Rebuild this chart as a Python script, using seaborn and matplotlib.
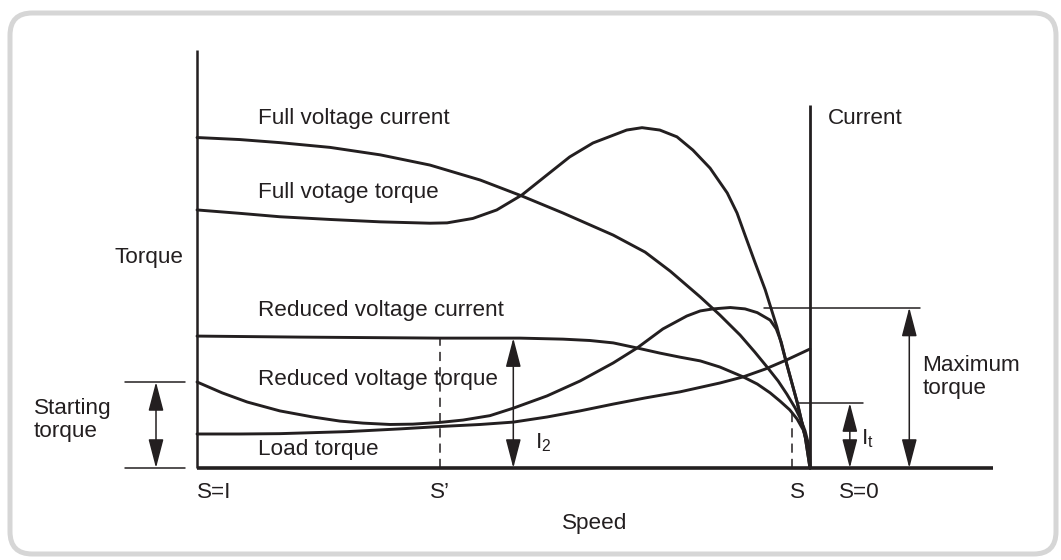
import numpy as np
import pandas as pd
import matplotlib
matplotlib.use("Agg")
import matplotlib.pyplot as plt
from matplotlib.patches import FancyBboxPatch
import seaborn as sns

# Speed axis: 0 = standstill (S=1), 1 = synchronous speed (S=0).
# Vertical axis: torque / current in relative units.
full_current_speed = [0.000, 0.070, 0.135, 0.217, 0.299, 0.380, 0.462, 0.530,
                      0.597, 0.679, 0.731, 0.772, 0.821, 0.853, 0.886, 0.910,
                      0.930, 0.948, 0.962, 0.976, 0.984, 0.992, 0.997, 0.9995,
                      1.000]
full_current_value = [97.2, 96.6, 95.7, 94.3, 92.1, 89.1, 84.7, 80.0,
                      75.0, 68.5, 63.5, 57.9, 50.3, 45.0, 39.1, 34.1,
                      29.7, 25.6, 21.8, 17.6, 14.7, 10.9, 7.4, 3.5,
                      0.0]

full_torque_speed = [0.000, 0.070, 0.135, 0.217, 0.299, 0.380, 0.408, 0.450,
                     0.489, 0.530, 0.571, 0.608, 0.646, 0.701, 0.726, 0.755,
                     0.783, 0.809, 0.837, 0.865, 0.881, 0.894, 0.910, 0.927,
                     0.946, 0.962, 0.979, 0.992, 1.000]
full_torque_value = [75.9, 74.9, 73.9, 73.1, 72.4, 72.0, 72.1, 73.4,
                     75.9, 80.3, 86.2, 91.5, 95.6, 99.4, 100.1, 99.4,
                     97.4, 93.5, 88.2, 80.9, 75.0, 68.5, 60.6, 52.4,
                     41.5, 30.6, 19.4, 9.4, 0.0]

reduced_current_speed = [0.000, 0.168, 0.396, 0.527, 0.597, 0.641, 0.679, 0.718,
                         0.755, 0.788, 0.821, 0.853, 0.891, 0.914, 0.935, 0.951,
                         0.967, 0.979, 0.989, 0.995, 0.999, 1.000]
reduced_current_value = [38.8, 38.5, 38.2, 38.2, 37.9, 37.5, 36.8, 35.3,
                         33.8, 32.6, 31.5, 29.7, 26.8, 24.7, 22.1, 19.7,
                         17.1, 14.4, 11.2, 7.4, 3.5, 0.0]

reduced_torque_speed = [0.000, 0.041, 0.082, 0.135, 0.189, 0.233, 0.271, 0.315,
                        0.352, 0.396, 0.434, 0.478, 0.516, 0.571, 0.625, 0.679,
                        0.718, 0.760, 0.799, 0.821, 0.842, 0.870, 0.894, 0.914,
                        0.935, 0.945, 0.953, 0.962, 0.979, 0.992, 1.000]
reduced_torque_value = [25.3, 22.1, 19.4, 16.8, 15.0, 13.8, 13.2, 12.8,
                        12.9, 13.4, 14.1, 15.4, 17.6, 21.2, 25.6, 30.9,
                        35.3, 40.9, 44.7, 46.2, 46.8, 47.2, 46.8, 45.7,
                        43.5, 40.9, 37.1, 30.6, 19.4, 9.4, 0.0]

load_torque_speed = [0.000, 0.070, 0.135, 0.245, 0.331, 0.396, 0.462, 0.516,
                     0.571, 0.625, 0.679, 0.731, 0.788, 0.853, 0.891, 0.927,
                     0.962, 1.000]
load_torque_value = [10.0, 10.0, 10.1, 10.7, 11.5, 12.2, 12.8, 13.5,
                     15.0, 16.8, 18.8, 20.6, 22.4, 25.0, 26.8, 29.1,
                     31.8, 35.0]

curve_labels = ["Full voltage current", "Full votage torque",
                "Reduced voltage current", "Reduced voltage torque",
                "Load torque"]

# Marked quantities
starting_torque = 25.3
maximum_torque = 47.2
s_prime_speed = 0.396
s_prime_current = 38.2
i2_speed = 0.516
s_speed = 0.971
s_level = 16.2
it_level = 19.1

speed_ticks = [0.0, 0.396, 0.979, 1.08]
speed_tick_labels = ["S=I", "S\u2019", "S", "S=0"]

INK = "#231f20"

sns.set_style("white")
plt.rcParams["font.family"] = ["Liberation Sans", "DejaVu Sans"]
plt.rcParams["mathtext.fontset"] = "custom"
plt.rcParams["mathtext.rm"] = "Liberation Sans"
plt.rcParams["mathtext.it"] = "Liberation Sans"

fig = plt.figure(figsize=(10.61, 5.6), dpi=100)
ax = fig.add_axes([0, 0, 1, 1])
ax.set_xlim(-0.3214, 1.4095)
ax.set_ylim(-27.06, 137.65)
ax.axis("off")

# Rounded frame around the diagram
frame = FancyBboxPatch((10 / 1061, 6 / 560), 1046 / 1061, 541 / 560,
                       boxstyle="round,pad=0,rounding_size=0.021",
                       transform=fig.transFigure, facecolor="none",
                       edgecolor="#d6d6d6", linewidth=3.6, zorder=0,
                       mutation_aspect=1061 / 560)
fig.patches.append(frame)

series = [
    (full_current_speed, full_current_value),
    (full_torque_speed, full_torque_value),
    (reduced_current_speed, reduced_current_value),
    (reduced_torque_speed, reduced_torque_value),
    (load_torque_speed, load_torque_value),
]
frames = []
for label, (sx, sy) in zip(curve_labels, series):
    frames.append(pd.DataFrame({"speed": sx, "value": sy, "curve": label}))
df = pd.concat(frames, ignore_index=True)

for label in curve_labels:
    part = df[df["curve"] == label]
    sns.lineplot(data=part, x="speed", y="value", ax=ax, color=INK,
                 linewidth=2.1, sort=False, estimator=None, legend=False,
                 zorder=3, solid_joinstyle="round", solid_capstyle="round")

# Axes of the diagram
ax.plot([0, 0], [0, 123], color=INK, lw=1.8, solid_capstyle="butt")
ax.plot([0, 1.299], [0, 0], color=INK, lw=2.6, solid_capstyle="butt")
ax.plot([1.0, 1.0], [0, 106.8], color=INK, lw=2.0, solid_capstyle="butt")

# Dashed speed markers
ax.plot([s_prime_speed, s_prime_speed], [0, s_prime_current], color=INK,
        lw=1.1, ls=(0, (6, 4)))
ax.plot([s_speed, s_speed], [0, s_level], color=INK, lw=1.1, ls=(0, (6, 4)))

# Reference lines for the dimension arrows
ax.plot([-0.1175, -0.0196], [starting_torque, starting_torque], color=INK, lw=1.1)
ax.plot([-0.1175, -0.0196], [0, 0], color=INK, lw=1.1)
ax.plot([0.925, 1.179], [maximum_torque, maximum_torque], color=INK, lw=1.1)
ax.plot([0.978, 1.086], [it_level, it_level], color=INK, lw=1.1)

arrow_style = dict(arrowstyle="<|-|>,head_length=1.8,head_width=0.47",
                   color=INK, lw=1.1, mutation_scale=10,
                   shrinkA=0, shrinkB=0)


def dimension(x, top):
    ax.annotate("", xy=(x, top), xytext=(x, 0), arrowprops=arrow_style)


dimension(-0.0669, starting_torque)
dimension(i2_speed, s_prime_current)
dimension(1.065, it_level)
dimension(1.162, maximum_torque)

fs = 16.2
text_kw = dict(color=INK, fontsize=fs, va="center")
ax.text(0.0995, 102.9, curve_labels[0], **text_kw)
ax.text(0.0995, 80.9, curve_labels[1], **text_kw)
ax.text(0.0995, 46.2, curve_labels[2], **text_kw)
ax.text(0.0995, 25.9, curve_labels[3], **text_kw)
ax.text(0.0995, 5.3, curve_labels[4], **text_kw)
ax.text(1.029, 102.9, "Current", **text_kw)
ax.text(-0.135, 61.9, "Torque", **text_kw)
ax.text(-0.266, 14.1, "Starting\ntorque", linespacing=1.15, **text_kw)
ax.text(1.183, 26.8, "Maximum\ntorque", linespacing=1.15, **text_kw)
ax.text(0.552, 7.5, r"I$_{2}$", **text_kw)
ax.text(1.083, 8.5, r"I$_{\mathrm{t}}$", **text_kw)

for pos, lab in zip(speed_ticks, speed_tick_labels):
    ha = "left" if pos == 0 else "center"
    ax.text(pos, -7.1, lab, ha=ha, **text_kw)
ax.text(0.649, -16.2, "Speed", ha="center", **text_kw)

fig.savefig("out.png", dpi=100)
